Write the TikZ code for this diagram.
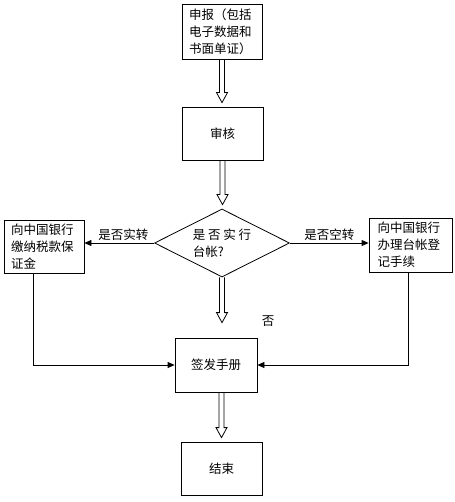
\documentclass[tikz,border=0pt]{standalone}
\usepackage{fontspec}
\setmainfont{Noto Sans CJK SC}
\usetikzlibrary{arrows.meta,shapes.geometric,calc}
\begin{document}
\begin{tikzpicture}[x=1pt,y=-1pt,
  every node/.style={font=\fontsize{12.5}{17}\selectfont},
  box/.style={draw,line width=0.8pt,inner sep=0pt,align=left},
  dia/.style={draw,line width=0.8pt,shape=diamond,aspect=2,inner sep=1pt,minimum width=135pt,minimum height=68pt,align=left},
  tipped/.style={draw,line width=0.8pt,-{Triangle[length=7pt,width=6pt]}},
  hollow/.style={draw,line width=0.8pt,to path={let \p1=(\tikztostart), \p2=(\tikztotarget) in
    (\x1-2.5pt,\y1) -- (\x1-2.5pt,\y2+10pt) -- (\x1-5.5pt,\y2+10pt) -- (\x1,\y2) -- (\x1+5.5pt,\y2+10pt) -- (\x1+2.5pt,\y2+10pt) -- (\x1+2.5pt,\y1)}},
  lbl/.style={inner sep=1pt}
]
\useasboundingbox (0,0) rectangle (454,502);
\node[box,minimum width=80pt,minimum height=55pt,text width=66pt] (apply) at (222,31.5) {申报（包括\\电子数据和\\书面单证）};
\node[box,minimum width=81pt,minimum height=53pt,align=center] (check) at (222.5,133.5) {审核};
\node[dia] (q) at (222,243) {是 否 实 行\\台帐?};
\node[box,minimum width=80pt,minimum height=53pt,text width=66pt] (lbox) at (44,246.5) {向中国银行\\缴纳税款保\\证金};
\node[box,minimum width=83pt,minimum height=54pt,text width=66pt] (rbox) at (410.5,245) {向中国银行\\办理台帐登\\记手续};
\node[box,minimum width=82pt,minimum height=54pt,align=center] (sign) at (216,365) {签发手册};
\node[box,minimum width=81pt,minimum height=53pt,align=center] (end) at (221.5,468.5) {结束};
\node[lbl] (no) at (268,321) {否};

\draw[hollow] (apply.south) to ([yshift=4pt]check.north);
\draw[hollow] (check.south) to ([yshift=4pt]q.north);
\draw[hollow] (q.south) to ([yshift=15pt]q.south |- sign.north);
\draw[hollow] (end.north |- sign.south) to ([yshift=4pt]end.north);

\draw[tipped] (q.west) -- node[lbl,above=1pt,pos=0.44] (ltxt) {是否实转} (lbox.east |- q.west);
\draw[tipped] (q.east) -- node[lbl,above=1pt,pos=0.5] (rtxt) {是否空转} (rbox.west |- q.east);
\draw[tipped] ([xshift=-11pt]lbox.south) |- (sign.west);
\draw[tipped] ([xshift=-2.5pt]rbox.south) |- (sign.east);
\end{tikzpicture}
\end{document}
